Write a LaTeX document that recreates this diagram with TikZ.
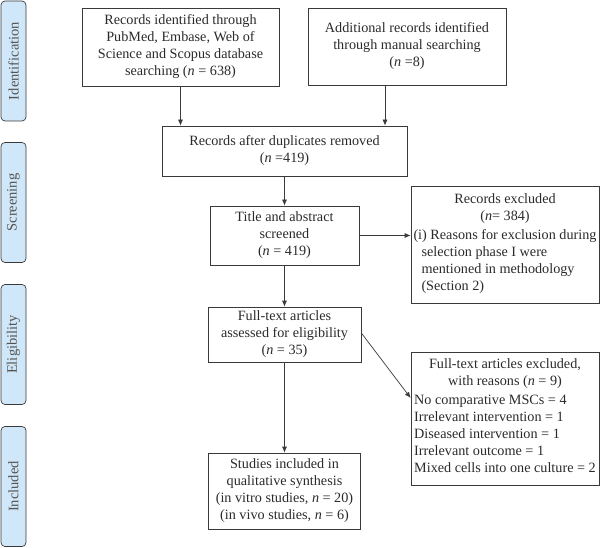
\documentclass[tikz,border=0pt]{standalone}
\usepackage{fontspec}
\setmainfont{Liberation Serif}
\usetikzlibrary{arrows.meta}
\definecolor{lblfill}{HTML}{CFE7F8}
\definecolor{linec}{HTML}{3A3A3A}
\definecolor{txtc}{HTML}{2A2A2A}
\tikzset{
  box/.style={draw=linec, line width=0.7pt, text=txtc, align=center, inner sep=2pt,
    font=\fontsize{14.2}{17}\selectfont},
  phase/.style={draw=linec, line width=0.7pt, fill=lblfill, rounded corners=4pt,
    minimum width=25pt, minimum height=120pt},
  phasetxt/.style={rotate=90, text=txtc!80, font=\fontsize{14.5}{16}\selectfont},
  arr/.style={draw=linec, line width=0.7pt, -{Latex[length=6pt,width=5pt]}}
}
\begin{document}
\begin{tikzpicture}[x=1pt,y=-1pt]
\useasboundingbox (0,0) rectangle (600,548);
% phase labels
\node[phase] (pI) at (13.5,61) {};
\node[phasetxt] (tI) at (pI.center) {Identification};
\node[phase] (pS) at (13.5,202.5) {};
\node[phasetxt] (tS) at (pS.center) {Screening};
\node[phase] (pE) at (13.5,344.5) {};
\node[phasetxt] (tE) at (pE.center) {Eligibility};
\node[phase] (pC) at (13.5,486.5) {};
\node[phasetxt] (tC) at (pC.center) {Included};
% boxes
\node[box, minimum width=197pt, minimum height=78pt] (b1) at (180.5,47)
  {Records identified through\\PubMed, Embase, Web of\\Science and Scopus database\\searching (\textit{n} = 638)};
\node[box, minimum width=198pt, minimum height=77pt] (b2) at (407,46.5)
  {Additional records identified\\through manual searching\\(\textit{n} =8)};
\node[box, minimum width=245pt, minimum height=50pt] (b3) at (284.5,151)
  {Records after duplicates removed\\(\textit{n} =419)};
\node[box, minimum width=149pt, minimum height=59pt] (b4) at (284.5,235.5)
  {Title and abstract\\screened\\(\textit{n} = 419)};
\node[box, minimum width=188pt, minimum height=117pt] (b5) at (505,244.5)
  {Records excluded\\(\textit{n}= 384)\\[3pt]
   \begin{tabular}{@{}l@{}}(i) Reasons for exclusion during\\\hspace{8pt}selection phase I were\\\hspace{8pt}mentioned in methodology\\\hspace{8pt}(Section 2)\end{tabular}};
\node[box, minimum width=153pt, minimum height=55pt] (b6) at (284.5,334.5)
  {Full-text articles\\assessed for eligibility\\(\textit{n} = 35)};
\node[box, minimum width=188pt, minimum height=133pt] (b7) at (505,418.5)
  {Full-text articles excluded,\\with reasons (\textit{n} = 9)\\[3pt]
   \begin{tabular}{@{}l@{}}No comparative MSCs = 4\\Irrelevant intervention = 1\\Diseased intervention = 1\\Irrelevant outcome = 1\\Mixed cells into one culture = 2\end{tabular}};
\node[box, minimum width=152pt, minimum height=76pt] (b8) at (284.5,491)
  {Studies included in\\qualitative synthesis\\(in vitro studies, \textit{n} = 20)\\(in vivo studies, \textit{n} = 6)};
% connectors
\draw[arr] (b1.south) -- (b1.south |- b3.north);
\draw[arr] ([xshift=-22pt]b2.south) -- ([xshift=-22pt]b2.south |- b3.north);
\draw[arr] (b3.south) -- (b4.north);
\draw[arr] (b4.east) -- (b4.east -| b5.west);
\draw[arr] (b4.south) -- (b6.north);
\draw[arr] ([yshift=1.5pt]b6.east) -- ([yshift=20.5pt]b7.west);
\draw[arr] (b6.south) -- (b8.north);
\end{tikzpicture}
\end{document}
